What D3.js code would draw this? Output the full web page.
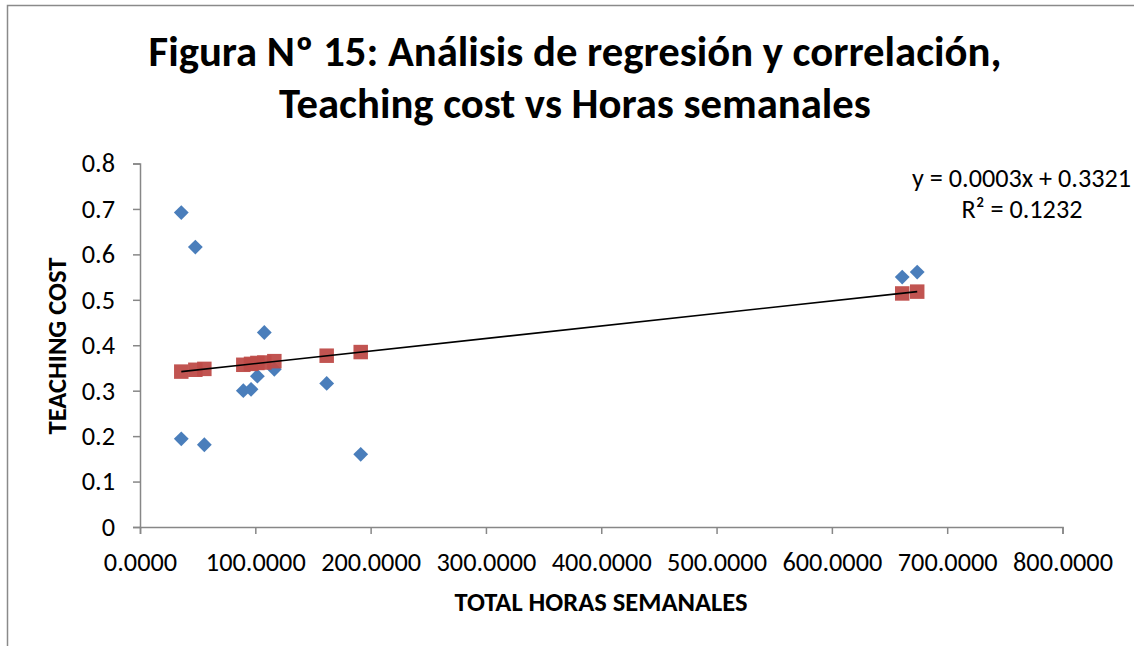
<!DOCTYPE html>
<html>
<head>
<meta charset="utf-8">
<script src="https://cdn.jsdelivr.net/npm/d3@7"></script>
<style>
  html, body { margin: 0; padding: 0; background: #fff; }
  svg { display: block; }
  text { font-family: Carlito, Lato, "Open Sans", sans-serif; fill: #000; }
</style>
</head>
<body>
<svg id="chart" width="1134" height="646"></svg>
<script>
// ---- data ----
const hours   = [35.8, 48.0, 55.8, 89.6, 96.3, 101.8, 107.8, 116.5, 161.9, 191.4, 661.0, 674.0];
const cost    = [0.692, 0.616, 0.181, 0.300, 0.303, 0.332, 0.428, 0.347, 0.316, 0.160, 0.550, 0.561];
const costLow = [0.194]; // second observation at the first x value
const hoursLow = [35.8];
const predicted = [0.342, 0.346, 0.348, 0.357, 0.359, 0.361, 0.362, 0.365, 0.377, 0.385, 0.514, 0.518];
const xTicks = [0, 100, 200, 300, 400, 500, 600, 700, 800];
const yTicks = [0, 0.1, 0.2, 0.3, 0.4, 0.5, 0.6, 0.7, 0.8];
const titleLines = ["Figura Nº 15: Análisis de regresión y correlación,", "Teaching cost vs Horas semanales"];
const xTitle = "TOTAL HORAS SEMANALES";
const yTitle = "TEACHING COST";
const eqLines = ["y = 0.0003x + 0.3321", "R² = 0.1232"];

const svg = d3.select("#chart");
const axisColor = "#878787";

// outer chart border (continues beyond the right/bottom edges)
svg.append("path")
  .attr("d", "M7.5,660 L7.5,5.5 L1150,5.5")
  .attr("fill", "none").attr("stroke", "#8a8a8a").attr("stroke-width", 1.5);

const x = d3.scaleLinear().domain([0, 800]).range([140, 1062.5]);
const y = d3.scaleLinear().domain([0, 0.8]).range([527, 163.5]);

function fit(sel, target) {
  sel.each(function() {
    const w = this.getComputedTextLength();
    const fs = parseFloat(d3.select(this).attr("font-size"));
    d3.select(this).attr("font-size", fs * target / w);
  });
}

// title
const t1 = svg.append("text").attr("x", 575).attr("y", 66).attr("text-anchor", "middle")
  .attr("font-weight", "bold").attr("font-size", 34).text(titleLines[0]);
fit(t1, 853);
const t2 = svg.append("text").attr("x", 575).attr("y", 118).attr("text-anchor", "middle")
  .attr("font-weight", "bold").attr("font-size", t1.attr("font-size")).text(titleLines[1]);

// axes
const gx = svg.append("g").attr("transform", "translate(0,527)")
  .call(d3.axisBottom(x).tickValues(xTicks).tickFormat(d3.format(".4f")).tickSize(7).tickPadding(18));
const gy = svg.append("g").attr("transform", "translate(140,0)")
  .call(d3.axisLeft(y).tickValues(yTicks).tickFormat(d => d === 0 ? "0" : d3.format(".1f")(d)).tickSize(7).tickPadding(18));
[gx, gy].forEach(g => {
  g.select(".domain").attr("stroke", axisColor).attr("stroke-width", 1.5);
  g.selectAll(".tick line").attr("stroke", axisColor).attr("stroke-width", 1.5);
  g.selectAll(".tick text").attr("font-family", null).attr("font-size", 22).attr("fill", "#000");
});
// fit tick label size
const sample = gx.selectAll(".tick text").filter(d => d === 800);
const w800 = sample.node().getComputedTextLength();
const tickFs = 22 * 100 / w800;
gx.selectAll(".tick text").attr("font-size", tickFs).attr("dy", "0.71em");
gy.selectAll(".tick text").attr("font-size", tickFs);
gx.attr("font-family", null); gy.attr("font-family", null);

// axis titles
const xt = svg.append("text").attr("x", 601).attr("y", 611).attr("text-anchor", "middle")
  .attr("font-weight", "bold").attr("font-size", 18).text(xTitle);
fit(xt, 293);
const yt = svg.append("text").attr("transform", "translate(66,346) rotate(-90)").attr("text-anchor", "middle")
  .attr("font-weight", "bold").attr("font-size", 18).text(yTitle);
fit(yt, 177);

// blue diamonds (observed)
const diamond = d3.symbol().type(d3.symbolSquare).size(110);
const obs = hours.map((h, i) => [h, cost[i]]).concat(hoursLow.map((h, i) => [h, costLow[i]]));
svg.append("g").selectAll("path").data(obs).join("path")
  .attr("d", diamond)
  .attr("transform", d => `translate(${x(d[0])},${y(d[1])}) rotate(45)`)
  .attr("fill", "#4a7ebb");

// red squares (predicted)
const sq = d3.symbol().type(d3.symbolSquare).size(210);
svg.append("g").selectAll("path").data(hours.map((h, i) => [h, predicted[i]])).join("path")
  .attr("d", sq)
  .attr("transform", d => `translate(${x(d[0])},${y(d[1])})`)
  .attr("fill", "#be4b48").attr("fill-opacity", 0.95);

// trend line on top (visible over markers, as in the reference)
svg.append("line")
  .attr("x1", x(hours[0])).attr("y1", y(predicted[0]))
  .attr("x2", x(hours[hours.length - 1])).attr("y2", y(predicted[predicted.length - 1]))
  .attr("stroke", "#000").attr("stroke-width", 1.6);

// equation
const e1 = svg.append("text").attr("x", 1131).attr("y", 187).attr("text-anchor", "end")
  .attr("font-size", 20).text(eqLines[0]);
fit(e1, 219);
svg.append("text").attr("x", 1022).attr("y", 218).attr("text-anchor", "middle")
  .attr("font-size", e1.attr("font-size")).text(eqLines[1]);
</script>
</body>
</html>
